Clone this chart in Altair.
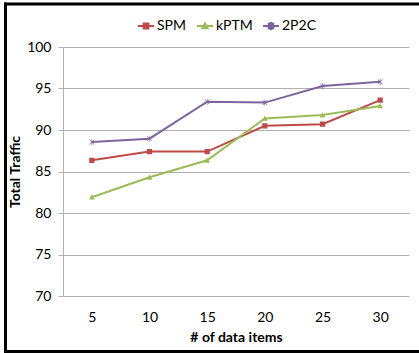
import altair as alt
import pandas as pd

items = ["5", "10", "15", "20", "25", "30"]
spm = [86.35, 87.4, 87.4, 90.5, 90.7, 93.6]
kptm = [81.9, 84.3, 86.35, 91.4, 91.8, 92.9]
p2c = [88.55, 88.95, 93.4, 93.3, 95.3, 95.8]
series = ["SPM", "kPTM", "2P2C"]
colors = ["#BE4B48", "#9BBB59", "#7E649E"]

rows = []
for name, vals in zip(series, [spm, kptm, p2c]):
    for it, v in zip(items, vals):
        rows.append({"items": it, "traffic": v, "series": name})
df = pd.DataFrame(rows)

FONT = "Lato"
W, H = 346, 249

shapes = [
    "M-1,0H1M-0.3,-0.3H0.3V0.3H-0.3Z",
    "M-1,0H1M0,-0.33L0.33,0.27H-0.33Z",
    "M-1,0H1M-0.3,-0.25L-0.25,-0.3L0.3,0.25L0.25,0.3Z"
    "M0.25,-0.3L0.3,-0.25L-0.25,0.3L-0.3,0.25Z"
    "M-0.035,-0.36H0.035V0.36H-0.035Z",
]

sc = alt.Scale(domain=series, range=colors)
legend = alt.Legend(
    title=None, orient="none", direction="horizontal",
    legendX=74, legendY=-30, labelFont=FONT, labelFontSize=14,
    labelColor="#000000", symbolSize=256, symbolStrokeWidth=2,
    columnPadding=6, labelOffset=2,
)

x = alt.X("items:O", sort=items, title="# of data items",
          scale=alt.Scale(type="point", padding=0.5),
          axis=alt.Axis(labelAngle=0, domain=False, ticks=False,
                        labelPadding=14, titlePadding=6, titleFontWeight="bold"))
y = alt.Y("traffic:Q", title="Total Traffic",
          scale=alt.Scale(domain=[70, 100], nice=False, zero=False),
          axis=alt.Axis(values=[70, 75, 80, 85, 90, 95, 100], domain=True,
                        domainColor="#b0b0b0", tickColor="#b0b0b0", tickSize=5,
                        labelPadding=7, titlePadding=4, titleFontWeight="bold"))

lines = alt.Chart(df).mark_line(strokeWidth=2).encode(
    x=x, y=y,
    stroke=alt.Stroke("series:N", scale=sc, legend=legend, sort=series),
)
points = alt.Chart(df).mark_point(filled=True, size=300, strokeOpacity=0, opacity=1).encode(
    x=x, y=y,
    fill=alt.Fill("series:N", scale=sc, legend=legend, sort=series),
    shape=alt.Shape("series:N", scale=alt.Scale(domain=series, range=shapes), legend=legend, sort=series),
)
one = alt.Data(values=[{"a": 1}])
top_rule = alt.Chart(one).mark_rule(color="#000000", strokeWidth=3).encode(
    x=alt.value(-59), x2=alt.value(356), y=alt.value(-43)
)
bottom_rule = alt.Chart(one).mark_rule(color="#000000", strokeWidth=3).encode(
    x=alt.value(-59), x2=alt.value(356), y=alt.value(304.5)
)
left_rule = alt.Chart(one).mark_rule(color="#000000", strokeWidth=3).encode(
    x=alt.value(-57.5), y=alt.value(-44.5), y2=alt.value(306)
)

chart = alt.layer(lines, points, top_rule, bottom_rule, left_rule).properties(
    width=W, height=H,
    autosize=alt.AutoSizeParams(type="none"),
    padding={"left": 63, "top": 47, "right": 10, "bottom": 57},
    background="#ffffff",
).configure_view(stroke=None).configure_axis(
    labelFont=FONT, titleFont=FONT, labelFontSize=14, titleFontSize=14,
    labelColor="#000000", titleColor="#000000", gridColor="#b0b0b0", grid=True,
).configure_axisX(grid=False)

chart.save("out.html", embed_options={"renderer": "svg", "actions": False})
